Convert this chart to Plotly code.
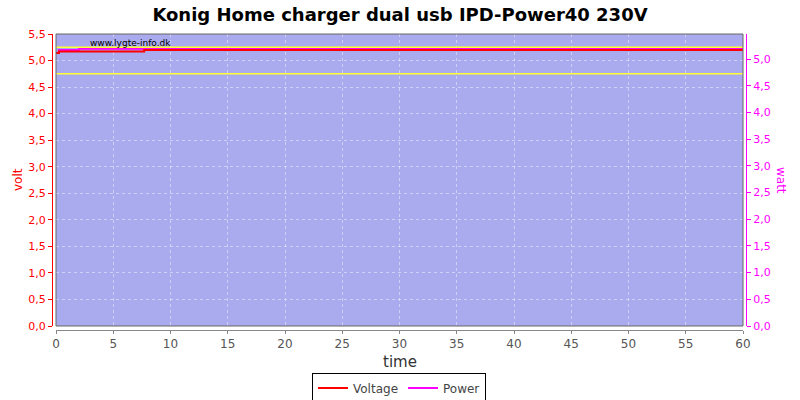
import plotly.graph_objects as go

# Data
volt_time = [0, 0.26, 7.7, 60]
volt_values = [5.14, 5.17, 5.20, 5.20]
power_time = [0, 0.26, 2.0, 60]
power_values = [5.12, 5.17, 5.195, 5.195]
limit_high = 5.25
limit_low = 4.75
x_ticks = list(range(0, 61, 5))
left_ticks = [i * 0.5 for i in range(12)]
right_ticks = [i * 0.5 for i in range(11)]

W, H = 800, 400
ml, mr, mt, mb = 52, 54, 34, 70
pw = W - ml - mr
ph = H - mt - mb
x_dom = [4 / pw, 1 - 3 / pw]
y_dom = [4 / ph, 1]

fig = go.Figure()

# power on the primary (right) axis so voltage draws above it
fig.add_trace(go.Scatter(x=power_time, y=power_values, mode="lines", name="Power",
                         line=dict(color="#ff00ff", width=2, shape="hv"),
                         yaxis="y", showlegend=False))

for yv in (limit_high, limit_low):
    fig.add_trace(go.Scatter(x=[0, 60], y=[yv, yv], mode="lines",
                             line=dict(color="#ffff33", width=1.5),
                             showlegend=False, hoverinfo="skip", yaxis="y2"))

fig.add_trace(go.Scatter(x=volt_time, y=volt_values, mode="lines", name="Voltage",
                         line=dict(color="#ff0000", width=2, shape="hv"), yaxis="y2"))
fig.add_trace(go.Scatter(x=[None], y=[None], mode="lines", name="Power",
                         line=dict(color="#ff00ff", width=2), yaxis="y2"))

grid = dict(showgrid=True, gridcolor="rgba(255,255,255,0.45)", griddash="3px,3px", gridwidth=1)

fig.update_layout(
    width=W, height=H,
    margin=dict(l=ml, r=mr, t=mt, b=mb, autoexpand=False),
    paper_bgcolor="white",
    plot_bgcolor="#aaaaee",
    separators=",.",
    font=dict(family="DejaVu Sans", size=11),
    title=dict(text="<b>Konig Home charger dual usb IPD-Power40 230V</b>",
               x=0.5, xanchor="center", y=1 - 15 / H, yanchor="middle",
               font=dict(size=18, color="black", family="DejaVu Sans")),
    xaxis=dict(range=[0, 60], domain=x_dom, anchor="free", position=0, automargin=False,
               tickvals=x_ticks, ticks="outside", ticklen=3, tickcolor="#888888",
               showline=True, linecolor="#888888", linewidth=1,
               tickfont=dict(size=12, color="#555555"), zeroline=False, **grid),
    yaxis=dict(range=[0, 5.47], domain=y_dom, anchor="free", position=1, side="right",
               automargin=False,
               tickvals=right_ticks, tickformat=".1f", ticks="outside", ticklen=4,
               tickcolor="#ff00ff", showline=True, linecolor="#ff00ff", linewidth=1,
               tickfont=dict(size=11, color="#ff00ff"), zeroline=False, showgrid=False),
    yaxis2=dict(range=[0, 5.5], domain=y_dom, anchor="free", position=0, side="left",
                overlaying="y", automargin=False,
                tickvals=left_ticks, tickformat=".1f", ticks="outside", ticklen=4,
                tickcolor="#ff0000", showline=True, linecolor="#ff0000", linewidth=1,
                tickfont=dict(size=11, color="#ff0000"), zeroline=False, **grid),
    legend=dict(orientation="h", x=0.5, xanchor="center", y=-(388 - (H - mb)) / ph,
                yanchor="middle", bordercolor="black", borderwidth=1,
                font=dict(size=12, color="#444444"), bgcolor="white",
                itemwidth=30, tracegroupgap=0),
    showlegend=True,
    shapes=[dict(type="rect", xref="x domain", yref="y domain", x0=0, x1=1, y0=0, y1=1,
                 line=dict(color="#666666", width=1), layer="above")],
    annotations=[
        dict(text="www.lygte-info.dk", xref="paper", yref="paper",
             x=(130 - ml) / pw, y=1 - (43 - mt) / ph, xanchor="center", yanchor="middle",
             showarrow=False, font=dict(size=9, color="black")),
        dict(text="volt", xref="paper", yref="paper", x=(18 - ml) / pw,
             y=1 - (180 - mt) / ph, xanchor="center", yanchor="middle",
             textangle=-90, showarrow=False, font=dict(size=12, color="#ff0000")),
        dict(text="watt", xref="paper", yref="paper", x=(781 - ml) / pw,
             y=1 - (180 - mt) / ph, xanchor="center", yanchor="middle",
             textangle=90, showarrow=False, font=dict(size=12, color="#ff00ff")),
        dict(text="time", xref="paper", yref="paper", x=(400 - ml) / pw,
             y=-(362 - (H - mb)) / ph, xanchor="center", yanchor="middle",
             showarrow=False, font=dict(size=15, color="#333333")),
    ],
)

fig.write_html("out.html",
               config={"displayModeBar": False},
               post_script="document.body.style.margin='0';document.body.style.overflow='hidden';")
